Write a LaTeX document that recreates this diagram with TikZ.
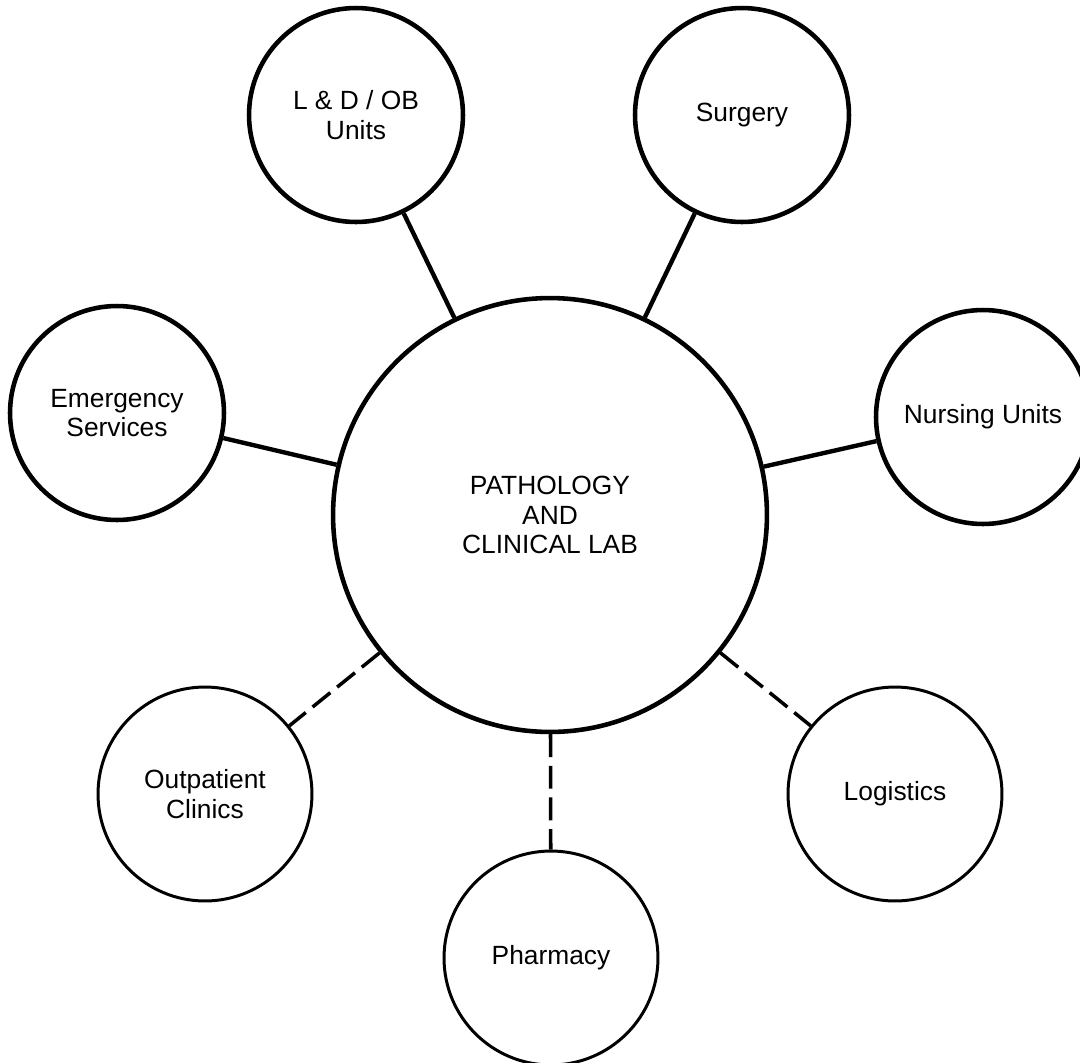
\documentclass[tikz,border=0pt]{standalone}
\usepackage{fontspec}
\setmainfont{Liberation Sans}
\usepackage{tikz}

\begin{document}
\begin{tikzpicture}[x=0.02cm, y=-0.02cm,
    every node/.style={font=\fontsize{15}{16.8}\selectfont},
    hub/.style={circle, draw, line width=2.6pt, minimum size=8.68cm, inner sep=0pt, align=center},
    dept/.style={circle, draw, line width=2.6pt, minimum size=4.28cm, inner sep=0pt, align=center},
    minor/.style={dept, line width=1.7pt},
    link/.style={line width=2.5pt},
    weaklink/.style={line width=2pt, dash pattern=on 13pt off 5pt}]
\useasboundingbox (0,0) rectangle (1080,1063);

% Central lab
\node[hub] (lab) at (550,515) {PATHOLOGY\\AND\\CLINICAL LAB};

% Direct departments
\node[dept] (ldob) at (356,115) {L \& D / OB\\Units};
\node[dept] (surgery) at (742,115) {Surgery};
\node[dept] (emergency) at (117,413) {Emergency\\Services};
\node[dept] (nursing) at (983,417) {Nursing Units};

% Indirect departments
\node[minor] (outpatient) at (205,794) {Outpatient\\Clinics};
\node[minor] (pharmacy) at (551,958) {Pharmacy};
\node[minor] (logistics) at (895,794) {Logistics};

% Links
\foreach \d in {ldob, surgery, emergency, nursing}
    \draw[link] (lab) -- (\d);
\foreach \d in {outpatient, pharmacy, logistics}
    \draw[weaklink] (lab) -- (\d);

\end{tikzpicture}
\end{document}
